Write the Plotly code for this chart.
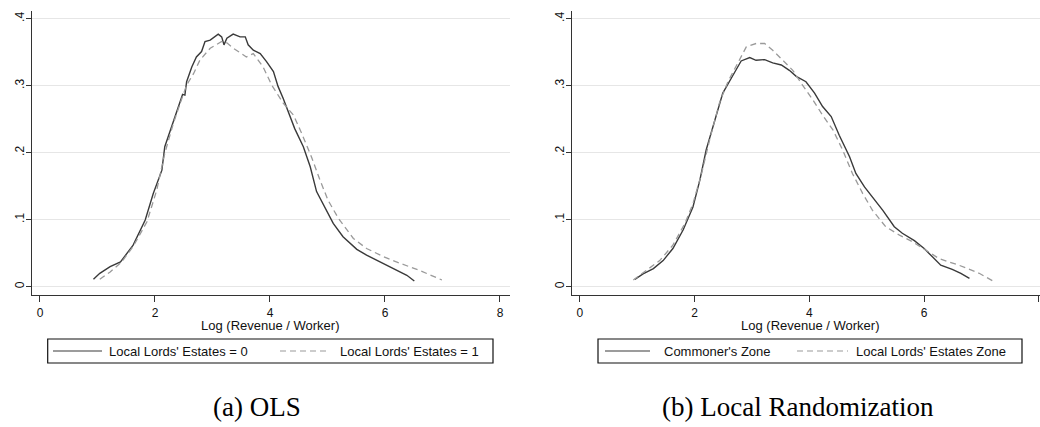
import plotly.graph_objects as go

# Kernel densities of log revenue per worker
# (a) OLS sample
ols_x0 = [0.93, 1.04, 1.22, 1.40, 1.62, 1.83, 1.97, 2.12, 2.17, 2.29, 2.41, 2.48, 2.52, 2.55,
          2.64, 2.72, 2.81, 2.87, 2.96, 3.01, 3.10, 3.16, 3.20, 3.25, 3.36, 3.48, 3.57, 3.62,
          3.71, 3.83, 3.94, 4.06, 4.14, 4.23, 4.35, 4.43, 4.58, 4.70, 4.81, 4.93, 5.10, 5.27,
          5.51, 5.68, 5.97, 6.26, 6.38, 6.51]
ols_y0 = [0.011, 0.020, 0.030, 0.037, 0.062, 0.0995, 0.139, 0.174, 0.209, 0.239, 0.269, 0.287,
          0.286, 0.306, 0.328, 0.343, 0.351, 0.366, 0.368, 0.371, 0.377, 0.373, 0.361, 0.371,
          0.377, 0.373, 0.373, 0.361, 0.353, 0.348, 0.336, 0.321, 0.299, 0.281, 0.254, 0.236,
          0.209, 0.179, 0.142, 0.122, 0.0945, 0.0746, 0.0557, 0.047, 0.035, 0.022, 0.017, 0.0085]
ols_x1 = [1.04, 1.22, 1.42, 1.62, 1.86, 2.03, 2.17, 2.32, 2.46, 2.55, 2.67, 2.78, 2.96, 3.07,
          3.16, 3.25, 3.36, 3.59, 3.71, 3.88, 4.03, 4.23, 4.41, 4.55, 4.72, 4.87, 5.01, 5.19,
          5.45, 5.68, 5.97, 6.26, 6.61, 6.99]
ols_y1 = [0.011, 0.022, 0.037, 0.060, 0.097, 0.144, 0.199, 0.244, 0.279, 0.301, 0.318, 0.338,
          0.356, 0.361, 0.366, 0.364, 0.356, 0.343, 0.348, 0.328, 0.301, 0.274, 0.256, 0.229,
          0.194, 0.159, 0.129, 0.102, 0.072, 0.057, 0.045, 0.035, 0.024, 0.010]

# (b) Local randomization sample
lr_x0 = [0.957, 1.10, 1.28, 1.45, 1.62, 1.80, 1.97, 2.09, 2.20, 2.35, 2.49, 2.67, 2.81, 2.96,
         3.07, 3.22, 3.36, 3.51, 3.65, 3.77, 3.94, 4.09, 4.23, 4.38, 4.52, 4.70, 4.81, 4.96,
         5.10, 5.28, 5.48, 5.62, 5.83, 6.00, 6.14, 6.29, 6.49, 6.64, 6.79]
lr_y0 = [0.011, 0.019, 0.027, 0.039, 0.057, 0.085, 0.119, 0.159, 0.204, 0.249, 0.289, 0.316,
         0.337, 0.342, 0.338, 0.339, 0.334, 0.331, 0.323, 0.314, 0.306, 0.289, 0.269, 0.254,
         0.226, 0.194, 0.169, 0.149, 0.134, 0.114, 0.0896, 0.0797, 0.0687, 0.057, 0.045, 0.032,
         0.026, 0.020, 0.0125]
lr_x1 = [0.93, 1.10, 1.39, 1.62, 1.83, 1.97, 2.12, 2.26, 2.43, 2.58, 2.78, 2.90, 3.07, 3.22,
         3.36, 3.54, 3.71, 3.88, 4.06, 4.23, 4.41, 4.58, 4.75, 4.93, 5.10, 5.33, 5.57, 5.80,
         6.03, 6.26, 6.61, 6.96, 7.22]
lr_y1 = [0.010, 0.021, 0.039, 0.062, 0.0945, 0.124, 0.169, 0.219, 0.274, 0.306, 0.338, 0.358,
         0.363, 0.363, 0.353, 0.338, 0.323, 0.301, 0.279, 0.256, 0.234, 0.204, 0.169, 0.139,
         0.114, 0.0895, 0.077, 0.067, 0.0545, 0.042, 0.032, 0.020, 0.0076]

x_ticks = [0, 2, 4, 6, 8]
x_ticktext = ["0", "2", "4", "6", "8"]
y_ticks = [0, 0.1, 0.2, 0.3, 0.4]
y_ticktext = ["0", ".1", ".2", ".3", ".4"]

x_title = "Log (Revenue / Worker)"
legend_a = ["Local Lords' Estates = 0", "Local Lords' Estates = 1"]
legend_b = ["Commoner's Zone", "Local Lords' Estates Zone"]
captions = ["(a) OLS", "(b) Local Randomization"]

W, H = 1040, 427
SANS = "Liberation Sans, Arial, sans-serif"
SERIF = "Liberation Serif, Times New Roman, serif"
SOLID_C = "#3a3a3a"
DASH_C = "#9a9a9a"
AXIS_C = "#333333"
GRID_C = "#e6e6e6"
DASH_PAT = "6px,4px"


def px(x):
    return x / W


def py(y):
    return 1 - y / H


fig = go.Figure()

panels = [
    ("x", "y", ols_x0, ols_y0, ols_x1, ols_y1, legend_a),
    ("x2", "y2", lr_x0, lr_y0, lr_x1, lr_y1, legend_b),
]
for xa, ya, x0, y0, x1, y1, names in panels:
    fig.add_trace(go.Scatter(x=x0, y=y0, xaxis=xa, yaxis=ya, mode="lines", name=names[0],
                             line=dict(color=SOLID_C, width=1.4), showlegend=False))
    fig.add_trace(go.Scatter(x=x1, y=y1, xaxis=xa, yaxis=ya, mode="lines", name=names[1],
                             line=dict(color=DASH_C, width=1.3, dash=DASH_PAT),
                             showlegend=False))

yrange = [-0.0124, 0.412]
common_x = dict(tickvals=x_ticks, ticktext=x_ticktext, ticks="outside", ticklen=6,
                tickcolor=AXIS_C, tickwidth=1, showline=True, linecolor=AXIS_C, linewidth=1.3,
                showgrid=False, zeroline=False, tickfont=dict(family=SANS, size=12, color="#111"))
common_y = dict(range=yrange, tickvals=y_ticks, ticktext=y_ticktext, ticks="outside", ticklen=5,
                tickcolor=AXIS_C, tickwidth=1, showline=True, linecolor=AXIS_C, linewidth=1.3,
                showgrid=True, gridcolor=GRID_C, gridwidth=1, zeroline=False, tickangle=-90,
                ticklabelstandoff=-3,
                tickfont=dict(family=SANS, size=12, color="#111"))

y_dom = [py(295), py(10.7)]
fig.update_layout(
    width=W, height=H, margin=dict(l=0, r=0, t=0, b=0),
    paper_bgcolor="white", plot_bgcolor="white", showlegend=False,
    xaxis=dict(domain=[px(32), px(510)], range=[-0.139, 8.174], anchor="y", **common_x),
    yaxis=dict(domain=y_dom, anchor="x", **common_y),
    xaxis2=dict(domain=[px(571.7), 1.0], range=[-0.144, 8.02], anchor="y2", **common_x),
    yaxis2=dict(domain=y_dom, anchor="x2", **common_y),
)

# Axis titles and panel captions
annotations = []
for cx in (270, 810):
    annotations.append(dict(x=px(cx), y=py(325), xref="paper", yref="paper", text=x_title,
                            showarrow=False, xanchor="center", yanchor="middle",
                            font=dict(family=SANS, size=13, color="#111")))
for cx, cap in [(257, captions[0]), (798, captions[1])]:
    annotations.append(dict(x=px(cx), y=py(407), xref="paper", yref="paper", text=cap,
                            showarrow=False, xanchor="center", yanchor="middle",
                            font=dict(family=SERIF, size=27, color="#000")))

# Legend boxes drawn below each panel
shapes = []
legend_layout = [
    # box x0, box x1, solid sample, text, dashed sample, text
    (47.7, 493, (53, 102), 107, (280, 330), 338, legend_a),
    (598, 1022, (605, 650), 662, (797, 848), 854, legend_b),
]
ly0, ly1 = 339, 363
lyc = (ly0 + ly1) / 2
for bx0, bx1, s_solid, t0, s_dash, t1, labels in legend_layout:
    shapes.append(dict(type="rect", xref="paper", yref="paper", x0=px(bx0), x1=px(bx1),
                       y0=py(ly1), y1=py(ly0), line=dict(color="#111", width=1.2),
                       fillcolor="white"))
    shapes.append(dict(type="line", xref="paper", yref="paper", x0=px(s_solid[0]),
                       x1=px(s_solid[1]), y0=py(lyc), y1=py(lyc),
                       line=dict(color=SOLID_C, width=1.2)))
    shapes.append(dict(type="line", xref="paper", yref="paper", x0=px(s_dash[0]),
                       x1=px(s_dash[1]), y0=py(lyc), y1=py(lyc),
                       line=dict(color=DASH_C, width=1.2, dash=DASH_PAT)))
    for tx, lab in [(t0, labels[0]), (t1, labels[1])]:
        annotations.append(dict(x=px(tx), y=py(lyc), xref="paper", yref="paper", text=lab,
                                showarrow=False, xanchor="left", yanchor="middle",
                                font=dict(family=SANS, size=13, color="#111")))

fig.update_layout(annotations=annotations, shapes=shapes)
fig.write_html("out.html")
